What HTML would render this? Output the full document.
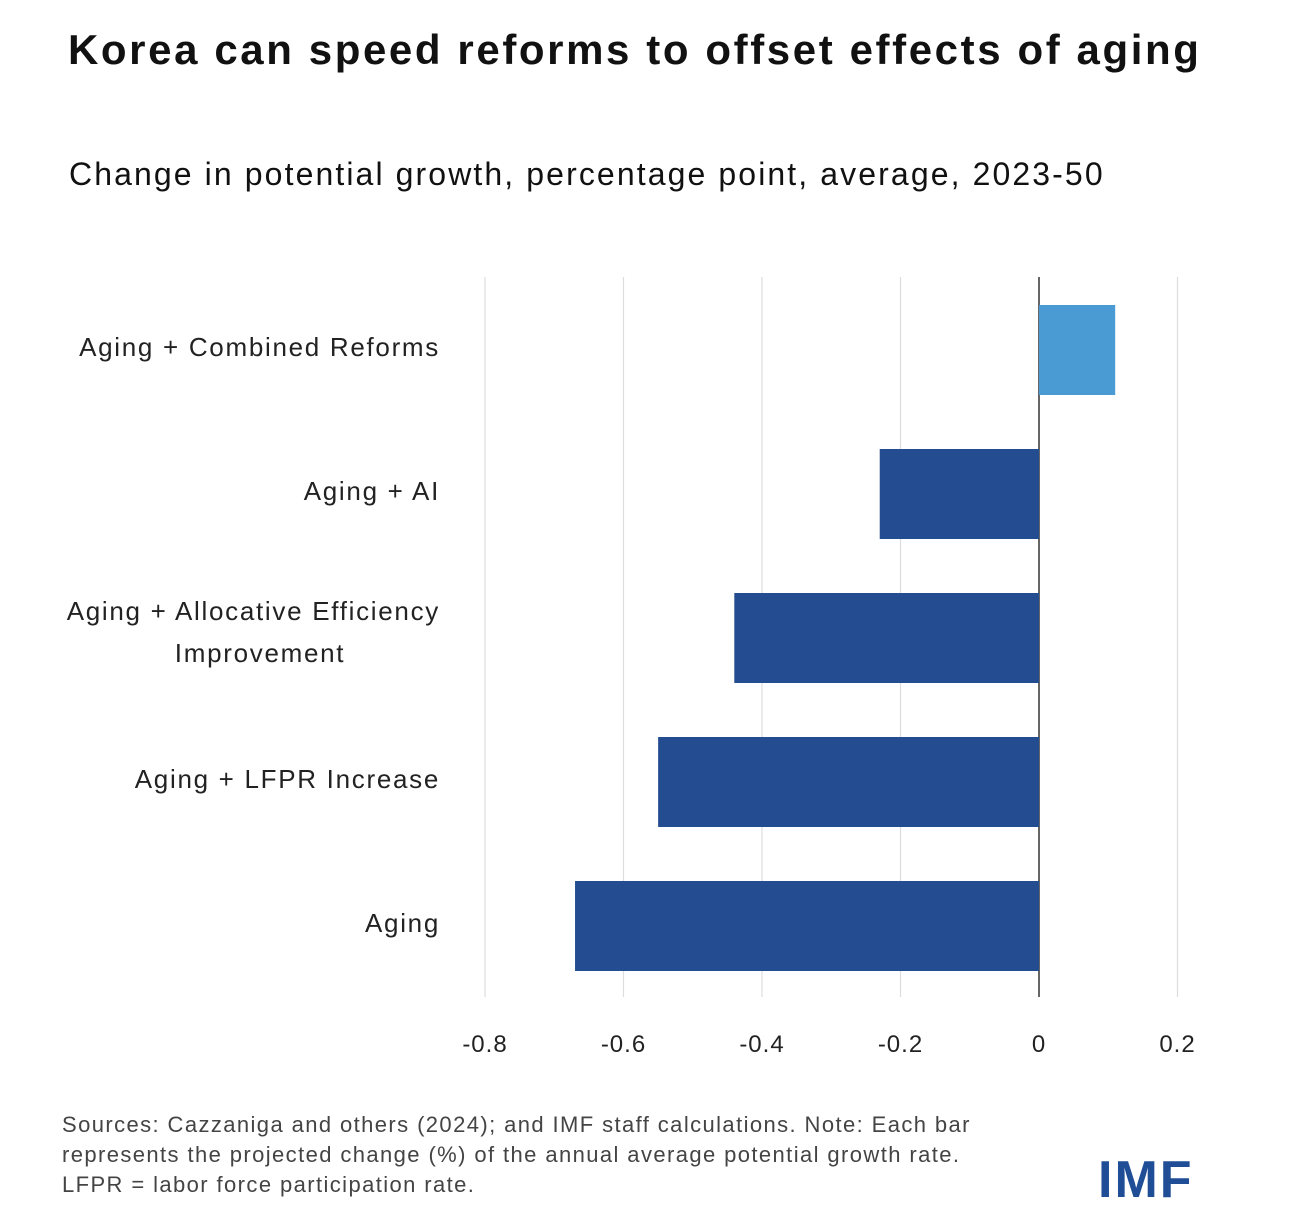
<!DOCTYPE html>
<html><head><meta charset="utf-8"><style>
body{margin:0;width:1290px;height:1232px;background:#fff;font-family:"Liberation Sans",sans-serif;position:relative;overflow:hidden}
.t{position:absolute;white-space:nowrap;color:#111}
</style></head><body>
<div class="t" style="left:68px;top:26px;font-size:42px;font-weight:bold;letter-spacing:2.6px">Korea can speed reforms to offset effects of aging</div>
<div class="t" style="left:69px;top:156px;font-size:32px;letter-spacing:2.1px">Change in potential growth, percentage point, average, 2023-50</div>
<svg id="chart" width="1290" height="1100" style="position:absolute;left:0;top:0"></svg>
<div class="t" style="left:62px;top:1110px;font-size:22px;line-height:30px;color:#444;letter-spacing:1.4px">Sources: Cazzaniga and others (2024); and IMF staff calculations. Note: Each bar<br>represents the projected change (%) of the annual average potential growth rate.<br>LFPR = labor force participation rate.</div>
<div class="t" style="left:1098px;top:1150px;font-size:52px;font-weight:bold;color:#1f4e96;letter-spacing:2px">IMF</div>
<script>
const categories=["Aging + Combined Reforms","Aging + AI","Aging + Allocative Efficiency|Improvement","Aging + LFPR Increase","Aging"];
const values=[0.11,-0.23,-0.44,-0.55,-0.67];
const ticks=[-0.8,-0.6,-0.4,-0.2,0,0.2];
const tickLabels=["-0.8","-0.6","-0.4","-0.2","0","0.2"];
const svg=document.getElementById('chart');const NS='http://www.w3.org/2000/svg';
const x=v=>1039+v*692.5;
const top0=277,bottom0=997,band=144,first=305,bh=90;
function mk(t,a){const e=document.createElementNS(NS,t);for(const k in a)e.setAttribute(k,a[k]);svg.appendChild(e);return e;}
ticks.forEach((t,i)=>{
 const g=mk('line',{x1:x(t),x2:x(t),y1:top0,y2:bottom0,stroke:t===0?'#333':'#ddd','stroke-width':t===0?1.5:1.2});
 
 
 const l=mk('text',{x:x(t),y:1052,'text-anchor':'middle','font-size':24,fill:'#222','font-family':'Liberation Sans','letter-spacing':1});
 l.textContent=tickLabels[i];
 
 
});
categories.forEach((c,i)=>{
 const v=values[i];const y0=first+i*band;
 const r=mk('rect',{x:Math.min(x(0),x(v)),y:y0,width:Math.abs(x(v)-x(0)),height:bh,fill:v>0?'#4a9ad4':'#244d91'});
 
 
 const parts=c.split('|');
 parts.forEach((p,j)=>{
  const tx=mk('text',{x:parts.length>1&&j===1?260:440,y:y0+bh/2+6+(parts.length>1?(j-0.5)*42-3:0),'text-anchor':parts.length>1&&j===1?'middle':'end','font-size':26,fill:'#222','font-family':'Liberation Sans','letter-spacing':1.7});
  tx.textContent=p;
  
  
 });
});
</script>
</body></html>
